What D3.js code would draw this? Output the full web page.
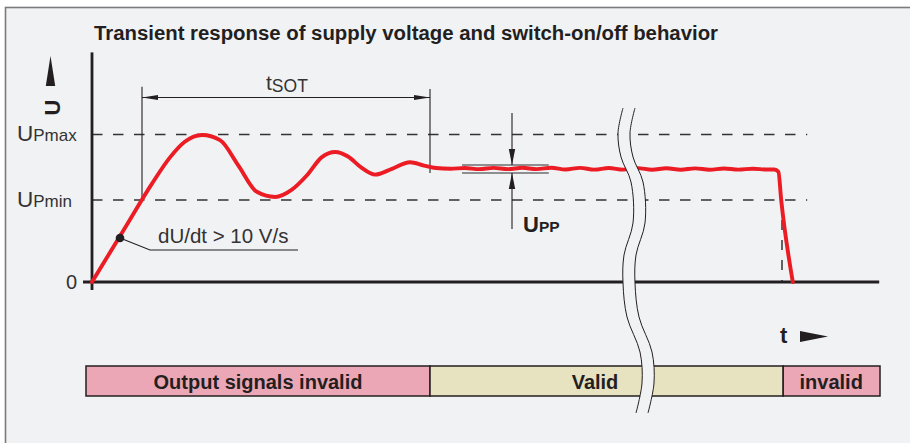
<!DOCTYPE html>
<html>
<head>
<meta charset="utf-8">
<script src="https://cdn.jsdelivr.net/npm/d3@7"></script>
<style>
  html, body { margin: 0; padding: 0; background: #ffffff; }
  svg { display: block; font-family: "Liberation Sans", Arial, sans-serif; }
</style>
</head>
<body>
<svg id="chart" width="910" height="443"></svg>
<script>
// ---------- data ----------
const titleText = "Transient response of supply voltage and switch-on/off behavior";

// supply voltage curve (time in arbitrary units, voltage in arbitrary units)
const timeValues = [0, 4, 7.5, 9.75, 11.6, 13.75, 16.0, 18.3, 20.6, 22.9, 24.9, 26.9, 28.7, 30.4,
  32.0, 33.6, 35.4, 37.5, 39.75, 41.5, 43.0, 44.8, 46.6, 48.4, 50.2, 52.0, 53.8, 55.6, 57.4, 59.2,
  61.0, 62.8, 64.6, 66.4, 68.2, 70.0, 71.8, 73.6, 75.4, 77.2, 79.0, 80.8, 82.6, 84.4, 85.3, 85.8,
  86.15, 87.6];
const voltageValues = [0, 6.4, 12.0, 15.2, 17.1, 17.93, 17.3, 14.2, 11.0, 10.37, 11.2, 13.05, 15.2, 15.85,
  15.3, 14.0, 13.1, 13.8, 14.6, 14.2, 13.9, 13.82, 13.9, 13.76, 13.92, 13.76, 13.93, 13.76, 13.94, 13.72,
  13.92, 13.7, 13.9, 13.7, 13.89, 13.69, 13.87, 13.69, 13.86, 13.69, 13.85, 13.7, 13.82, 13.72, 13.72, 13.45,
  10, 0];

// levels on the voltage axis
const levelNames = ["UPmax", "UPmin", "0"];
const levelValues = [18, 10, 0];

// switch-on time tSOT
const tsotRange = [6.25, 42.25];
// ripple band UPP
const uppTime = 52.5;
const uppBand = [13.29, 14.27];
const uppSpan = [46.25, 57.1];
// switch-off point
const switchOffTime = 86.25;
// time-axis break
const breakTime = 67.25;

// output-signal phases
const phaseNames = ["Output signals invalid", "Valid", "invalid"];
const phaseStarts = [-0.75, 42.25, 86.4];
const phaseEnds = [42.25, 86.4, 98.5];
const phaseLabelTimes = [20.75, 62.9, 92.4];

// ---------- drawing ----------
const svg = d3.select("#chart");
const W = 910, H = 443;
const bg = "#f1f2f4";
const ink = "#231f20";
const red = "#ec1c24";

svg.append("rect").attr("x", 0).attr("y", 0).attr("width", W).attr("height", H).attr("fill", "#fff");
svg.append("rect").attr("x", 5.5).attr("y", 7.5).attr("width", W + 20).attr("height", H + 20)
  .attr("fill", bg).attr("stroke", "#7a7b7e").attr("stroke-width", 1.6);

const x = d3.scaleLinear().domain([0, 100]).range([92, 892]);
const y = d3.scaleLinear().domain([0, 10]).range([282, 200]);

// title
svg.append("text").attr("x", 94).attr("y", 39.5)
  .attr("font-size", 20).attr("font-weight", "bold").attr("fill", ink)
  .attr("textLength", 624).attr("lengthAdjust", "spacingAndGlyphs")
  .text(titleText);

// dashed level lines
const levelData = levelNames.map((n, i) => ({ name: n, v: levelValues[i] }));
svg.selectAll("line.level").data(levelData.filter(d => d.v > 0)).join("line")
  .attr("class", "level")
  .attr("x1", x(0)).attr("x2", x(89.4))
  .attr("y1", d => y(d.v)).attr("y2", d => y(d.v))
  .attr("stroke", "#333").attr("stroke-width", 1.5).attr("stroke-dasharray", "10.5,10.5");

// vertical dashed at switch-off
svg.append("line")
  .attr("x1", x(switchOffTime)).attr("x2", x(switchOffTime))
  .attr("y1", y(10)).attr("y2", y(0))
  .attr("stroke", "#333").attr("stroke-width", 1.5).attr("stroke-dasharray", "10,10");

// axes
svg.append("line").attr("x1", x(0)).attr("x2", x(0)).attr("y1", y(28)).attr("y2", y(0) + 8)
  .attr("stroke", ink).attr("stroke-width", 2.8);
svg.append("line").attr("x1", x(-1.125)).attr("x2", x(98.4)).attr("y1", y(0)).attr("y2", y(0))
  .attr("stroke", ink).attr("stroke-width", 2.8);

// level labels
levelData.forEach(d => {
  const t = svg.append("text").attr("y", y(d.v) + 7).attr("fill", "#333");
  if (d.v === 0) {
    t.attr("x", 77).attr("text-anchor", "end").attr("font-size", 20).text(d.name);
  } else {
    t.attr("x", 17);
    t.append("tspan").attr("font-size", 22.5).text(d.name.slice(0, 1));
    t.append("tspan").attr("font-size", 17).text(d.name.slice(1));
  }
});

// voltage axis label and arrow
svg.append("path").attr("d", "M50.5,56 L55.2,86 L45.8,86 Z").attr("fill", ink);
svg.append("text").attr("transform", "translate(52,107.5) rotate(-90)")
  .attr("text-anchor", "middle").attr("dy", "0.36em")
  .attr("font-size", 22).attr("font-weight", "bold").attr("fill", ink).text("U");

// tSOT dimension
const thin = 1.1;
svg.append("line").attr("x1", x(tsotRange[0])).attr("x2", x(tsotRange[0]))
  .attr("y1", y(23.8)).attr("y2", y(10)).attr("stroke", ink).attr("stroke-width", thin);
svg.append("line").attr("x1", x(tsotRange[1])).attr("x2", x(tsotRange[1]))
  .attr("y1", y(23.55)).attr("y2", y(13.3)).attr("stroke", ink).attr("stroke-width", thin);
const tsY = y(22.5);
svg.append("line").attr("x1", x(tsotRange[0])).attr("x2", x(tsotRange[1]))
  .attr("y1", tsY).attr("y2", tsY).attr("stroke", ink).attr("stroke-width", thin);
const xa = x(tsotRange[0]), xb = x(tsotRange[1]);
svg.append("path").attr("d", `M${xa},${tsY} L${xa + 16},${tsY - 2.6} L${xa + 16},${tsY + 2.6} Z`).attr("fill", ink);
svg.append("path").attr("d", `M${xb},${tsY} L${xb - 16},${tsY - 2.6} L${xb - 16},${tsY + 2.6} Z`).attr("fill", ink);
const ts = svg.append("text").attr("x", 266).attr("y", 90).attr("fill", "#333");
ts.append("tspan").attr("font-size", 21).text("t");
ts.append("tspan").attr("font-size", 17.5).attr("dy", 2).text("SOT");

// UPP band
svg.selectAll("line.upp").data(uppBand).join("line").attr("class", "upp")
  .attr("x1", x(uppSpan[0])).attr("x2", x(uppSpan[1]))
  .attr("y1", d => y(d)).attr("y2", d => y(d))
  .attr("stroke", "#6d6e71").attr("stroke-width", 1.6);
const ux = x(uppTime);
const uTop = y(uppBand[1]), uBot = y(uppBand[0]);
svg.append("line").attr("x1", ux).attr("x2", ux).attr("y1", y(20.6)).attr("y2", uTop)
  .attr("stroke", ink).attr("stroke-width", thin);
svg.append("line").attr("x1", ux).attr("x2", ux).attr("y1", y(6.46)).attr("y2", uBot)
  .attr("stroke", ink).attr("stroke-width", thin);
svg.append("path").attr("d", `M${ux},${uTop} L${ux - 3.2},${uTop - 16} L${ux + 3.2},${uTop - 16} Z`).attr("fill", ink);
svg.append("path").attr("d", `M${ux},${uBot} L${ux - 3.2},${uBot + 16} L${ux + 3.2},${uBot + 16} Z`).attr("fill", ink);
const up = svg.append("text").attr("x", 523).attr("y", 232).attr("fill", ink).attr("font-weight", "bold");
up.append("tspan").attr("font-size", 22).text("U");
up.append("tspan").attr("font-size", 15.5).text("PP");

// voltage curve
const curveData = timeValues.map((t, i) => ({ t, v: voltageValues[i] }));
svg.append("path").datum(curveData)
  .attr("d", d3.line().x(d => x(d.t)).y(d => y(d.v)).curve(d3.curveMonotoneX))
  .attr("fill", "none").attr("stroke", red).attr("stroke-width", 3.9)
  .attr("stroke-linejoin", "round").attr("stroke-linecap", "round");

// dU/dt annotation
const dotT = 3.5, dotV = 5.37;
const dx0 = x(dotT), dy0 = y(dotV);
svg.append("path").attr("d", `M${dx0},${dy0} L150,250 L298,250`)
  .attr("fill", "none").attr("stroke", ink).attr("stroke-width", 1.1);
svg.append("circle").attr("cx", dx0).attr("cy", dy0).attr("r", 4.3).attr("fill", ink);
svg.append("text").attr("x", 158).attr("y", 243).attr("font-size", 20.5).attr("fill", "#333")
  .text("dU/dt > 10 V/s");

// time label
svg.append("text").attr("x", 780).attr("y", 343).attr("font-size", 22).attr("font-weight", "bold")
  .attr("fill", ink).text("t");
svg.append("path").attr("d", "M800,331 L828,336.5 L800,342 Z").attr("fill", ink);

// phase bars
const barY = 366, barH = 30;
const phases = phaseNames.map((n, i) => ({ n, s: phaseStarts[i], e: phaseEnds[i], lt: phaseLabelTimes[i] }));
const phaseFill = ["#eca7b7", "#e7e3c0", "#eca7b7"];
svg.selectAll("rect.phase").data(phases).join("rect").attr("class", "phase")
  .attr("x", d => x(d.s)).attr("width", d => x(d.e) - x(d.s))
  .attr("y", barY).attr("height", barH)
  .attr("fill", (d, i) => phaseFill[i]).attr("stroke", ink).attr("stroke-width", 1.5);
svg.selectAll("text.phase").data(phases).join("text").attr("class", "phase")
  .attr("x", (d, i) => i === 1 ? 595 : x(d.lt)).attr("y", barY + 22.5)
  .attr("text-anchor", "middle").attr("font-size", 20).attr("font-weight", "bold").attr("fill", ink)
  .text(d => d.n);

// axis break symbol
const bx = x(breakTime);
const breakPts = [[-1,108],[-6,133],[-3,157],[7,182],[9,223],[0,255],[-1,283],[3,317],[16,352],[18,383],[12,413]]
  .map(p => ({ x: bx + p[0], y: p[1] }));
const half = 6;
svg.append("path").datum(breakPts)
  .attr("d", d3.area().y(d => d.y).x0(d => d.x - half).x1(d => d.x + half).curve(d3.curveCatmullRom))
  .attr("fill", bg);
[-half, half].forEach(o => {
  svg.append("path").datum(breakPts)
    .attr("d", d3.line().x(d => d.x + o).y(d => d.y).curve(d3.curveCatmullRom))
    .attr("fill", "none").attr("stroke", ink).attr("stroke-width", 1);
});
</script>
</body>
</html>
